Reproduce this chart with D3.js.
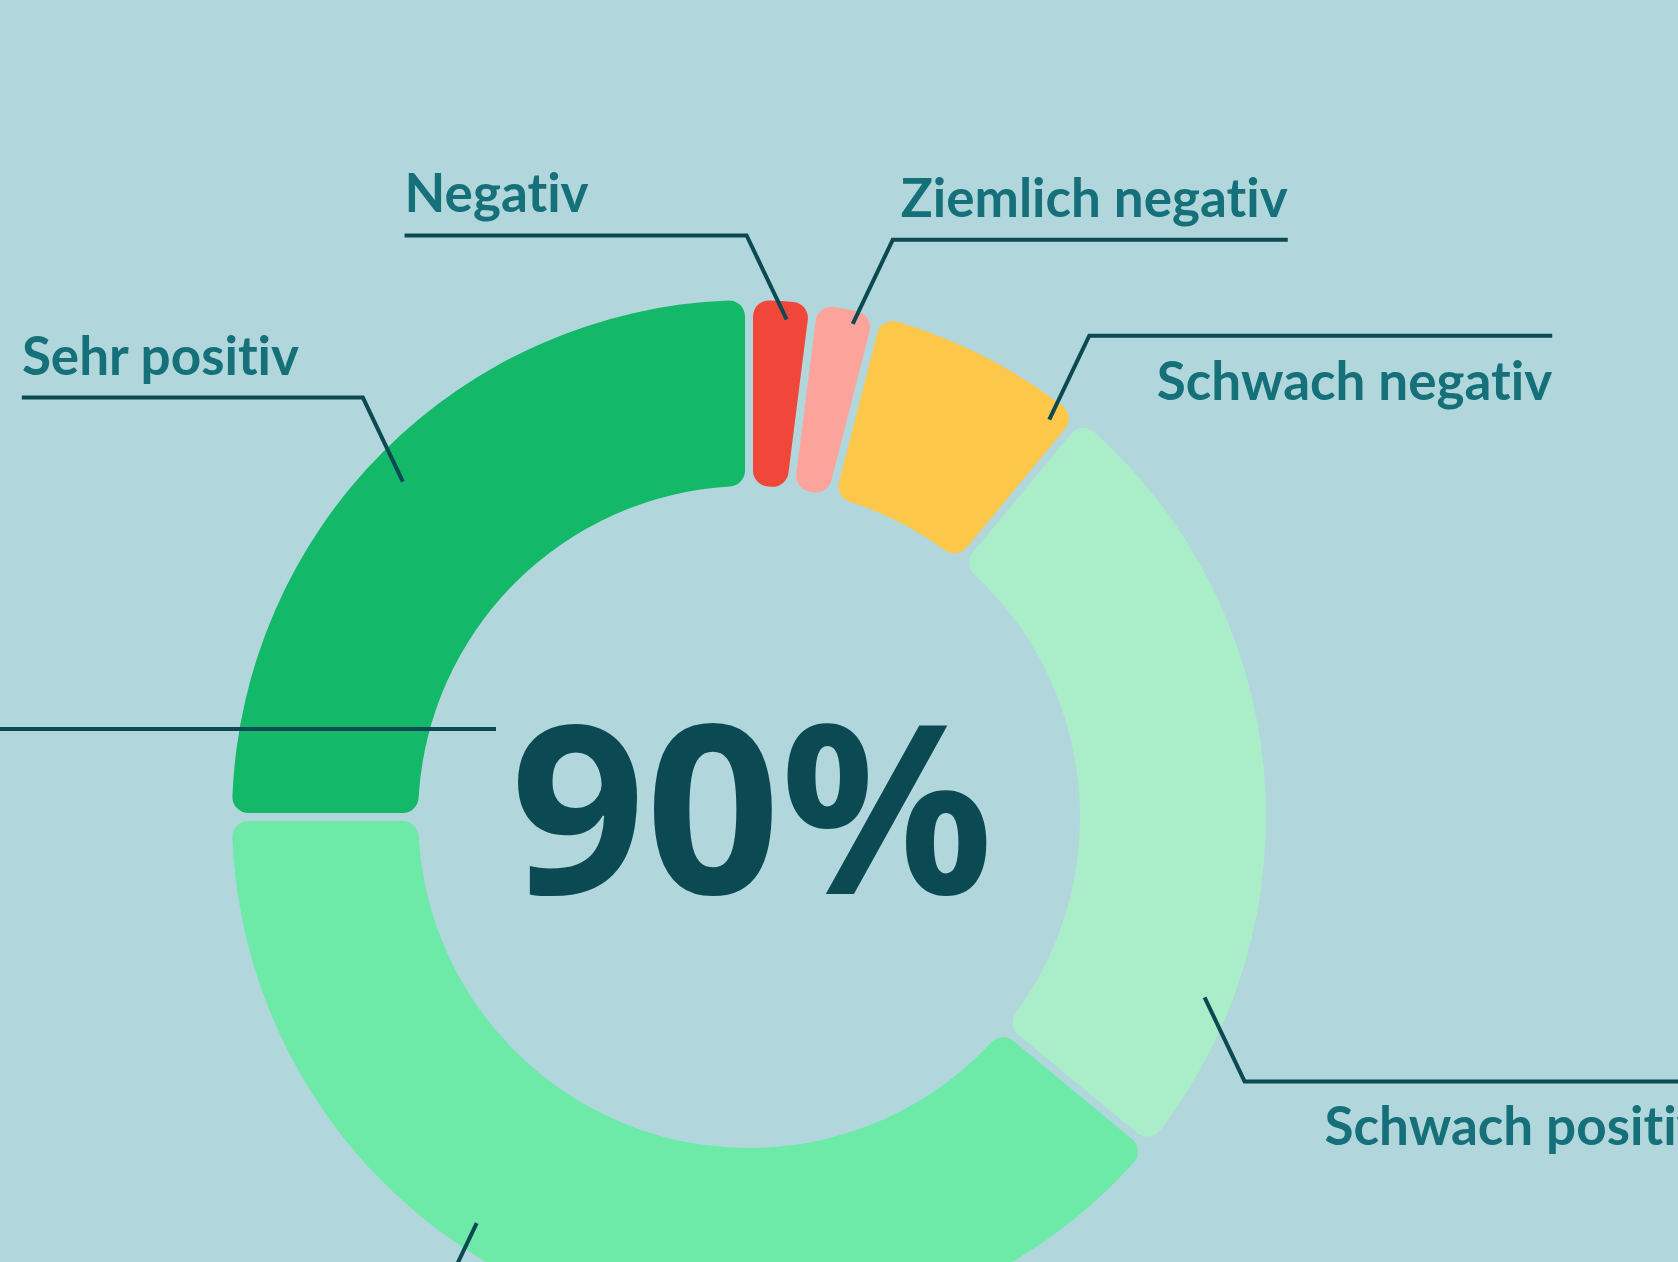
<!DOCTYPE html>
<html>
<head>
<meta charset="utf-8">
<script src="https://cdn.jsdelivr.net/npm/d3@7"></script>
<style>
  body { margin: 0; background: #b1d7dc; overflow: hidden; }
  .seg-label { font-family: Lato, "Noto Sans", sans-serif; font-weight: 700; fill: #15707a; font-variant-ligatures: none; }
  .headline { font-family: "Noto Sans", Lato, sans-serif; font-weight: 700; fill: #0b4a53; }
  .leader { fill: none; stroke: #0b4a53; stroke-width: 4; }
</style>
</head>
<body>
<div id="chart"></div>
<script>
// data, clockwise from 12 o'clock
const categories = ["Negativ", "Ziemlich negativ", "Schwach negativ", "Schwach positiv", "Ziemlich positiv", "Sehr positiv"]
const shares = [2, 2, 7, 25, 39, 25]
const colors = ["#f0473a", "#fca49c", "#fdc74a", "#a9eec9", "#6de9a8", "#13b868"]
const headline = "90%"

// where each leader line touches its slice (fraction along the slice), which way it runs
const labelLayout = [
  { at: 0.6, r: 499, dir: [-1, -1], len: 342, side: "above" },
  { at: 0.65, r: 504, dir: [1, -1], len: 395, side: "above" },
  { at: 0.9, r: 498, dir: [1, -1], len: 463, side: "below" },
  { at: 0.8, r: 490, dir: [1, 1], len: 460, side: "below" },
  { at: 0.6, r: 489, dir: [-1, 1], len: 400, side: "below" },
  { at: 0.49, r: 482, dir: [-1, -1], len: 341, side: "above" },
]

const width = 1678
const height = 1262
const cx = 749
const cy = 817
const outer = 517
const inner = 331

const svg = d3
  .select("#chart")
  .append("svg")
  .attr("width", width)
  .attr("height", height)

svg.append("rect").attr("width", width).attr("height", height).attr("fill", "#b1d7dc")

const g = svg.append("g").attr("transform", `translate(${cx},${cy})`)

const pie = d3
  .pie()
  .sort(null)
  .value((d) => d)
const arcs = pie(shares)

const arc = d3
  .arc()
  .innerRadius(inner)
  .outerRadius(outer)
  .cornerRadius(16)
  .padAngle(0.013)

g.selectAll(".slice")
  .data(arcs)
  .join("path")
  .attr("class", "slice")
  .attr("d", arc)
  .attr("fill", (d, i) => colors[i])

// leader lines + labels
const labels = g
  .selectAll(".label")
  .data(arcs)
  .join("g")
  .attr("class", "label")

labels.each(function (d, i) {
  const lay = labelLayout[i]
  const a = d.startAngle + lay.at * (d.endAngle - d.startAngle)
  const ax = lay.r * Math.sin(a)
  const ay = -lay.r * Math.cos(a)
  const ex = ax + lay.dir[0] * 40
  const ey = ay + lay.dir[1] * 84
  const endX = ex + lay.dir[0] * lay.len
  const ty = lay.side == "above" ? ey - 23 : ey + 64
  const sel = d3.select(this)

  sel
    .append("path")
    .attr("class", "leader")
    .attr("d", d3.line()([[ax, ay], [ex, ey], [endX, ey]]))

  // label lies below the visible frame -> leave it out
  if (cy + ty - 40 > height) return

  sel
    .append("text")
    .attr("class", "seg-label")
    .attr("x", endX)
    .attr("y", ty)
    .attr("text-anchor", lay.dir[0] < 0 ? "start" : "end")
    .attr("font-size", 53)
    .text(categories[i])
})

// big number in the middle, with its line coming in from the left
g.append("line")
  .attr("class", "leader")
  .attr("x1", -cx - 10)
  .attr("x2", -253)
  .attr("y1", -88)
  .attr("y2", -88)

g.append("text")
  .attr("class", "headline")
  .attr("x", 3)
  .attr("y", 77)
  .attr("text-anchor", "middle")
  .attr("font-size", 236)
  .text(headline)
</script>
</body>
</html>
